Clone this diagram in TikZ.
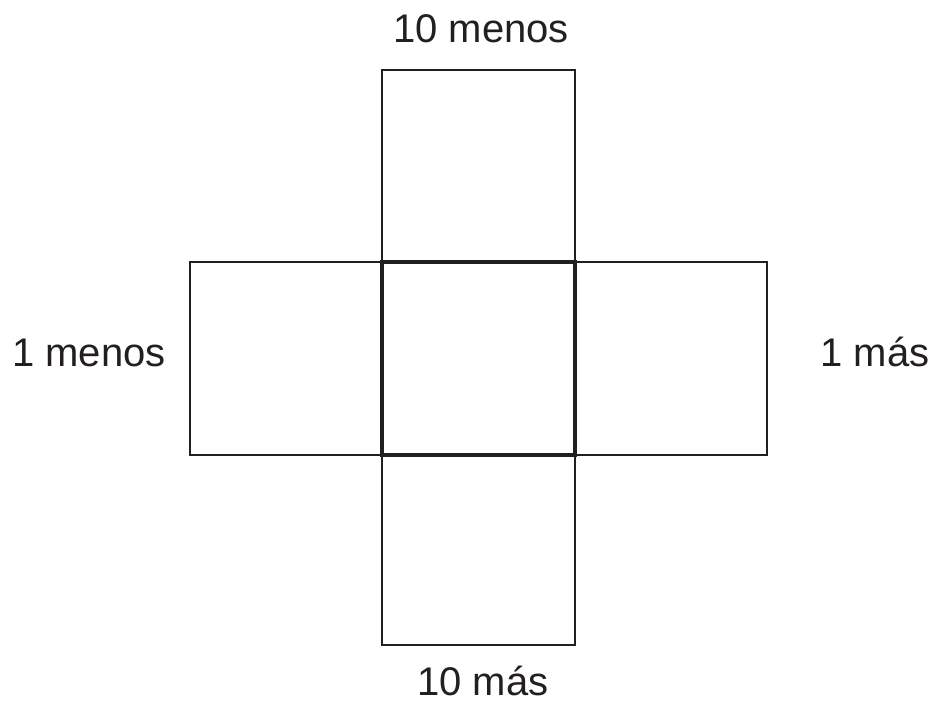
\documentclass[tikz,border=0pt]{standalone}
\usepackage{fontspec}
\setmainfont{Liberation Sans}
\definecolor{ink}{HTML}{231F20}
\begin{document}
\begin{tikzpicture}[x=1pt,y=-1pt,
  cell/.style={draw=ink,line width=1.8pt},
  centercell/.style={draw=ink,line width=3.4pt},
  lbl/.style={text=ink,font=\fontsize{40}{40}\selectfont,anchor=base,inner sep=0pt}]
\useasboundingbox (0,0) rectangle (935,702);
\draw[cell] (382,70) rectangle (575,262);
\draw[cell] (382,455) rectangle (575,645);
\draw[cell] (190,262) rectangle (382,455);
\draw[cell] (575,262) rectangle (767,455);
\draw[centercell] (382,262) rectangle (575,455);
\node[lbl] (top) at (481,42) {10 menos};
\node[lbl] (bottom) at (483,695) {10 más};
\node[lbl] (left) at (89,366) {1 menos};
\node[lbl] (right) at (875,366) {1 más};
\end{tikzpicture}
\end{document}
